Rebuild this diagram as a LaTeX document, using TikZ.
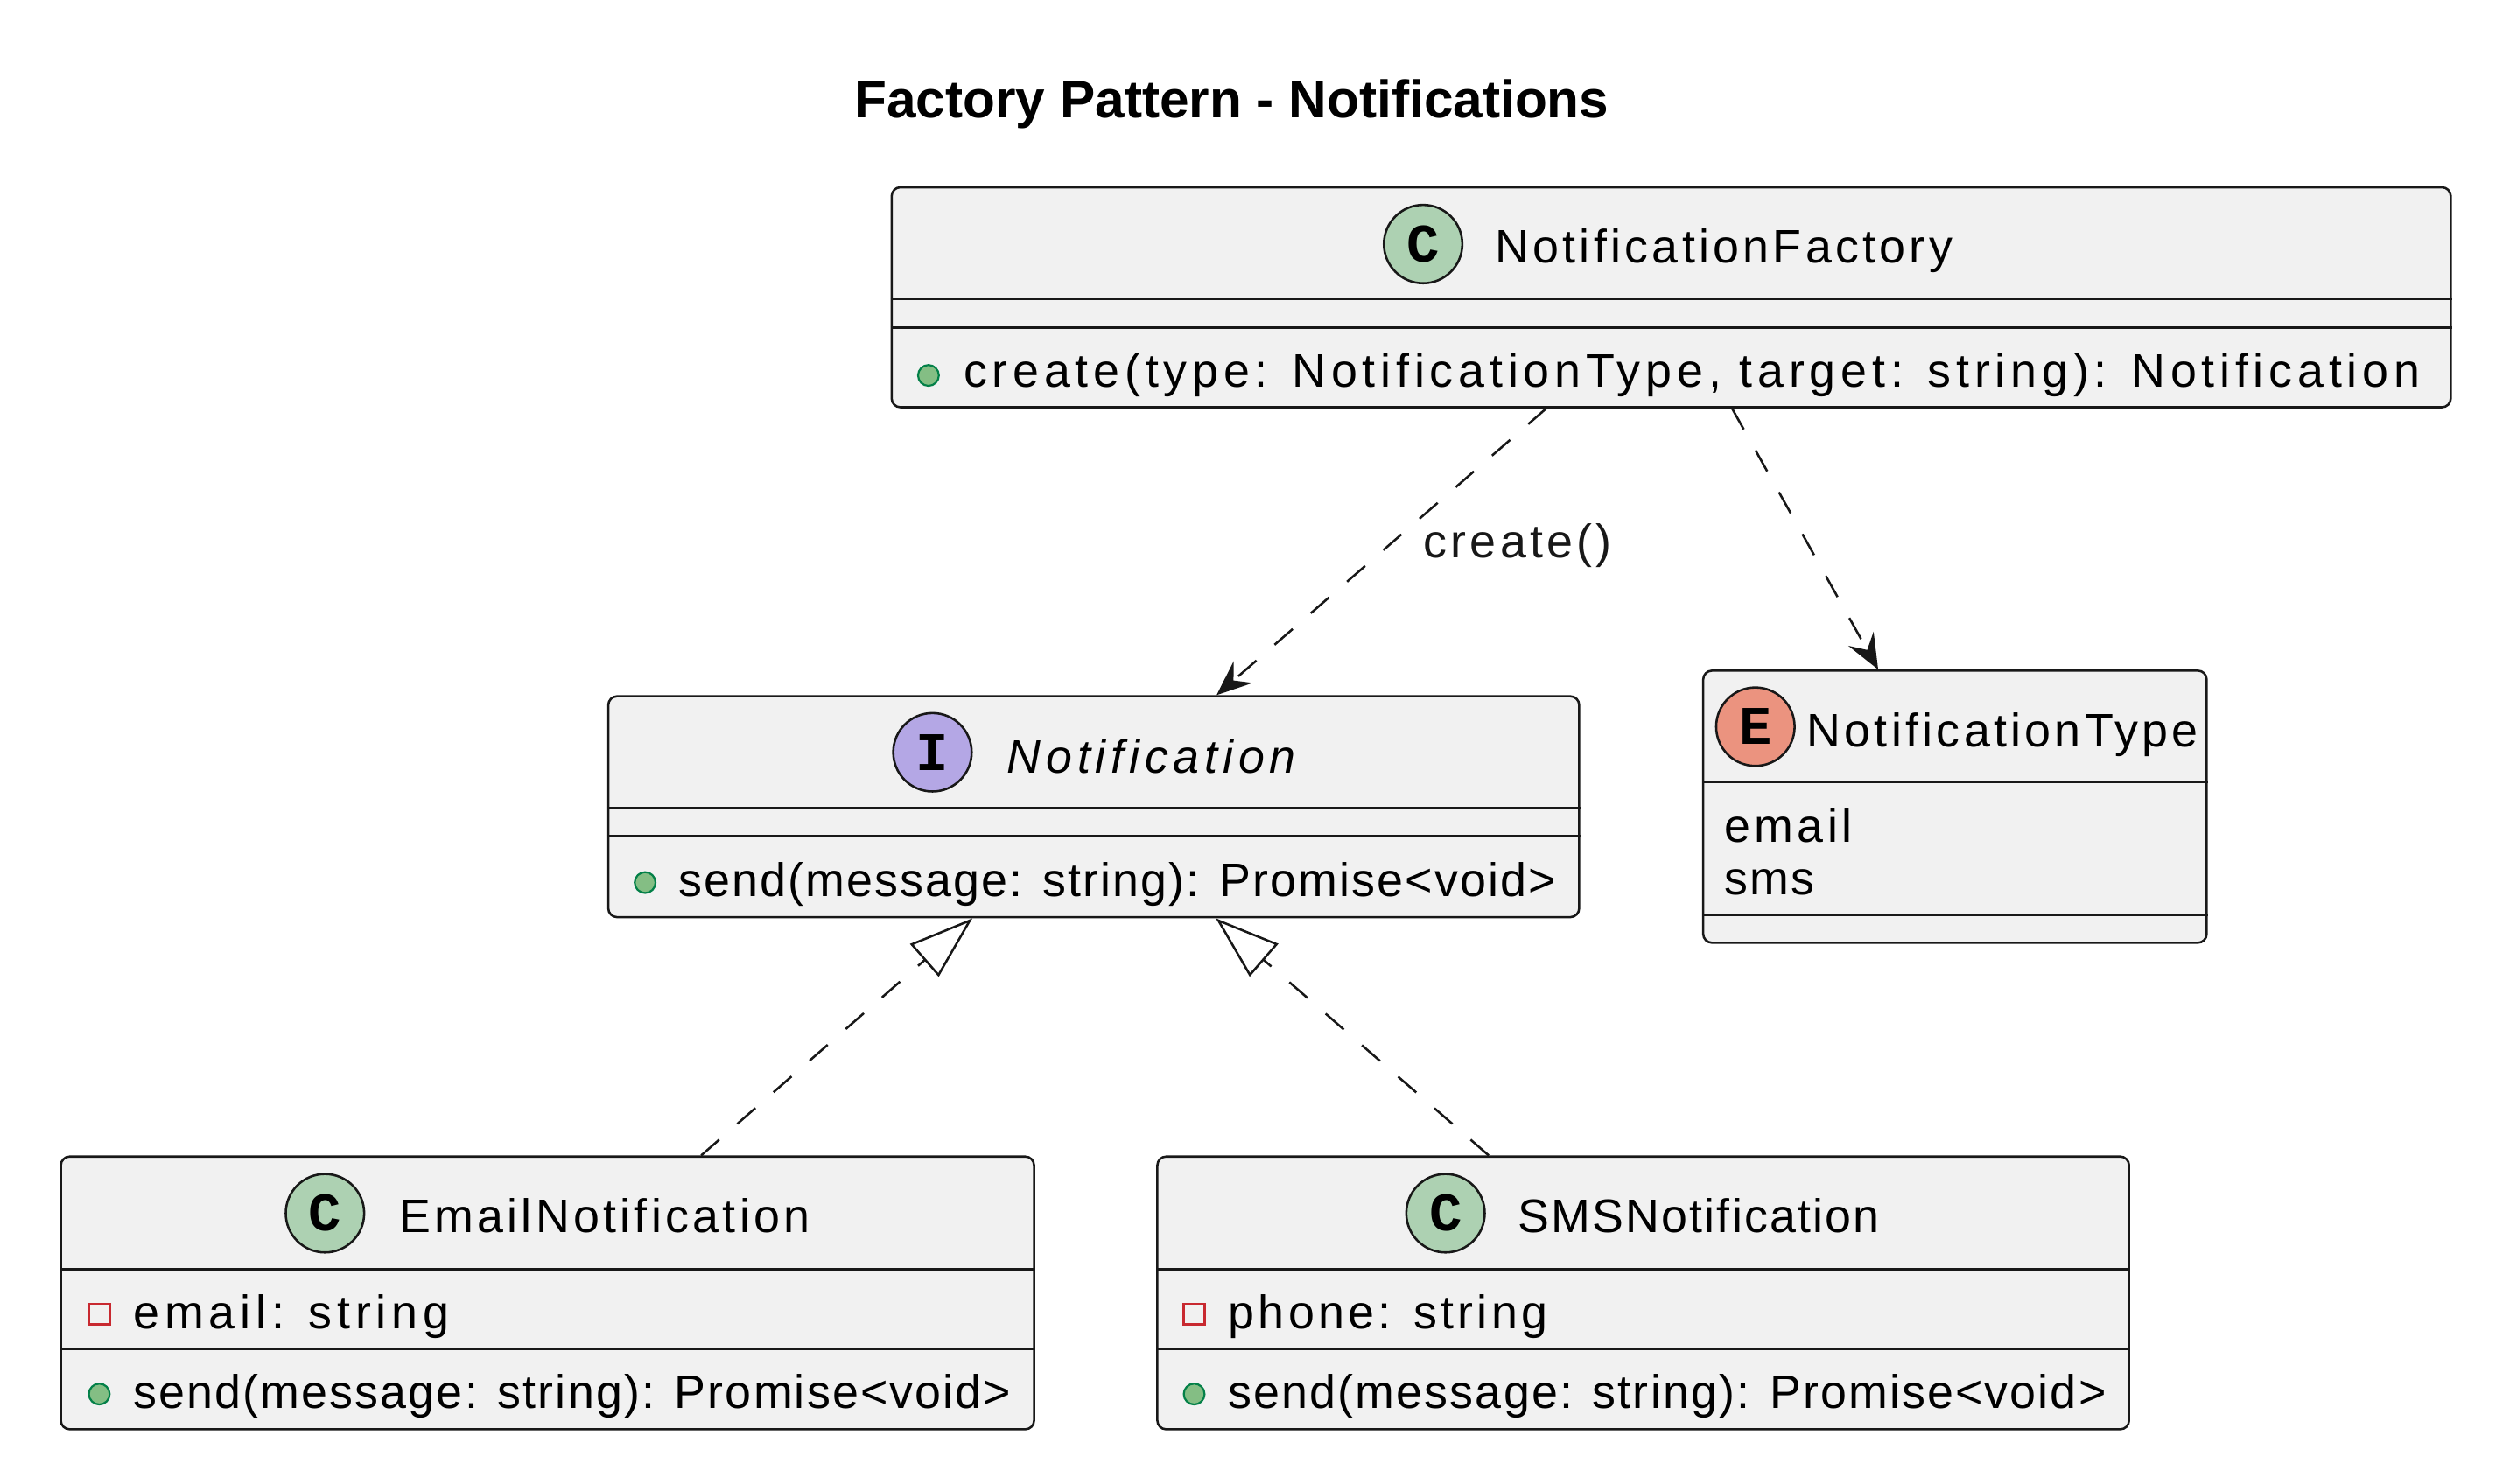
\documentclass[tikz,border=0pt]{standalone}
\usepackage{fontspec}
\setmainfont{Liberation Sans}
\newfontfamily\umlfont[LetterSpace=8]{Liberation Sans}
\newfontfamily\umltight[LetterSpace=4]{Liberation Sans}
\newfontfamily\umlwide[LetterSpace=10.8]{Liberation Sans}
\newfontfamily\iconfont{Liberation Mono}
\usetikzlibrary{arrows.meta}
\definecolor{boxfill}{HTML}{F1F1F1}
\definecolor{boxline}{HTML}{181818}
\definecolor{classicon}{HTML}{ADD1B2}
\definecolor{ifaceicon}{HTML}{B4A7E5}
\definecolor{enumicon}{HTML}{EB937F}
\definecolor{privred}{HTML}{C82930}
\definecolor{pubfill}{HTML}{84BE84}
\definecolor{publine}{HTML}{038048}
\tikzset{
  uml box/.style={draw=boxline,fill=boxfill,line width=.7pt,rounded corners=2.75pt,inner sep=0pt},
  uml rule/.style={draw=boxline,line width=.7pt},
  uml icon/.style={circle,draw=boxline,line width=.7pt,minimum size=24.5pt,inner sep=0pt,font=\iconfont\bfseries\fontsize{17}{17}\selectfont},
  uml name/.style={anchor=base west,inner sep=0pt,font=\umlfont\fontsize{14.7}{14.7}\selectfont},
  uml item/.style={anchor=base west,inner sep=0pt,font=\umlfont\fontsize{14.7}{14.7}\selectfont},
  uml pub/.style={circle,draw=publine,fill=pubfill,line width=.6pt,minimum size=6.5pt,inner sep=0pt},
  uml priv/.style={rectangle,draw=privred,line width=.7pt,minimum size=6.5pt,inner sep=0pt},
  uml dep/.style={boxline,line width=.7pt,dash pattern=on 7.5pt off 7.5pt,-{Stealth[length=11pt,width=9pt,inset=4pt]}},
  uml real/.style={boxline,line width=.7pt,dash pattern=on 7.5pt off 7.5pt,-{Triangle[open,length=20pt,width=13.5pt]}}
}
\begin{document}
\begin{tikzpicture}[x=.5pt,y=-.5pt]
  \path[use as bounding box] (0,0) rectangle (1568,927);
  \node[font=\bfseries\fontsize{16.5}{16.5}\selectfont,anchor=base,inner sep=0pt] (title) at (769.5,73.8) {Factory Pattern - Notifications};
  % NotificationFactory
  \node[uml box,minimum width=487pt,minimum height=68.75pt] (fac) at (1044,185.75) {};
  \node[uml icon,fill=classicon] (facicon) at (889,152.5) {C};
  \node[uml name] (facname) at (933.6,164.2) {NotificationFactory};
  \draw[uml rule] (fac.west |- 0,187) -- (fac.east |- 0,187);
  \draw[uml rule] (fac.west |- 0,204.6) -- (fac.east |- 0,204.6);
  \node[uml pub] (facpub) at (580,234.6) {};
  \node[uml item,font=\umlwide\fontsize{14.7}{14.7}\selectfont] (facop) at (601.6,241.8) {create(type: NotificationType, target: string): Notification};
  % Notification
  \node[uml box,minimum width=303.25pt,minimum height=69pt] (ntf) at (683.25,504) {};
  \node[uml icon,fill=ifaceicon] (ntficon) at (582.5,470) {I};
  \node[uml name,font=\umlwide\itshape\fontsize{14.7}{14.7}\selectfont] (ntfname) at (628.8,483.1) {Notification};
  \draw[uml rule] (ntf.west |- 0,505) -- (ntf.east |- 0,505);
  \draw[uml rule] (ntf.west |- 0,522.5) -- (ntf.east |- 0,522.5);
  \node[uml pub] (ntfpub) at (403,551.4) {};
  \node[uml item,font=\umltight\fontsize{14.7}{14.7}\selectfont] (ntfop) at (423.5,560.2) {send(message: string): Promise<void>};
  % NotificationType
  \node[uml box,minimum width=157.25pt,minimum height=85pt] (ntype) at (1221.25,504) {};
  \node[uml icon,fill=enumicon] (ntypeicon) at (1096.6,454) {E};
  \node[uml name] (ntypename) at (1128.3,466.5) {NotificationType};
  \draw[uml rule] (ntype.west |- 0,488.6) -- (ntype.east |- 0,488.6);
  \node[uml item] (ntypeemail) at (1077,526) {email};
  \node[uml item,font=\umltight\fontsize{14.7}{14.7}\selectfont] (ntypesms) at (1077,559) {sms};
  \draw[uml rule] (ntype.west |- 0,571.6) -- (ntype.east |- 0,571.6);
  % EmailNotification
  \node[uml box,minimum width=304pt,minimum height=85.2pt] (email) at (342,807.8) {};
  \node[uml icon,fill=classicon] (emailicon) at (203,758) {C};
  \node[uml name] (emailname) at (249,770) {EmailNotification};
  \draw[uml rule] (email.west |- 0,793) -- (email.east |- 0,793);
  \node[uml priv] (emailpriv) at (62,821) {};
  \node[uml item,font=\umlwide\fontsize{14.7}{14.7}\selectfont] (emailfield) at (83,830) {email: string};
  \draw[uml rule] (email.west |- 0,843) -- (email.east |- 0,843);
  \node[uml pub] (emailpub) at (62,871) {};
  \node[uml item,font=\umltight\fontsize{14.7}{14.7}\selectfont] (emailop) at (83,880) {send(message: string): Promise<void>};
  % SMSNotification
  \node[uml box,minimum width=303.5pt,minimum height=85.2pt] (sms) at (1026.5,807.8) {};
  \node[uml icon,fill=classicon] (smsicon) at (903,758) {C};
  \node[uml name,font=\umltight\fontsize{14.7}{14.7}\selectfont] (smsname) at (948,770) {SMSNotification};
  \draw[uml rule] (sms.west |- 0,793) -- (sms.east |- 0,793);
  \node[uml priv] (smspriv) at (746,821) {};
  \node[uml item] (smsfield) at (767,830) {phone: string};
  \draw[uml rule] (sms.west |- 0,843) -- (sms.east |- 0,843);
  \node[uml pub] (smspub) at (746,871) {};
  \node[uml item,font=\umltight\fontsize{14.7}{14.7}\selectfont] (smsop) at (767,880) {send(message: string): Promise<void>};
  % relations
  \draw[uml dep] (fac.south -| 966,0) -- node[uml item,pos=.5,xshift=12.75pt,yshift=-2pt] (createlbl) {create()} (ntf.north -| 760,0);
  \draw[uml dep] (fac.south -| 1082,0) -- (ntype.north -| 1173.3,0);
  \draw[uml real] (email.north -| 438,0) -- (ntf.south -| 607.5,0);
  \draw[uml real] (sms.north -| 930,0) -- (ntf.south -| 759.5,0);
\end{tikzpicture}
\end{document}
